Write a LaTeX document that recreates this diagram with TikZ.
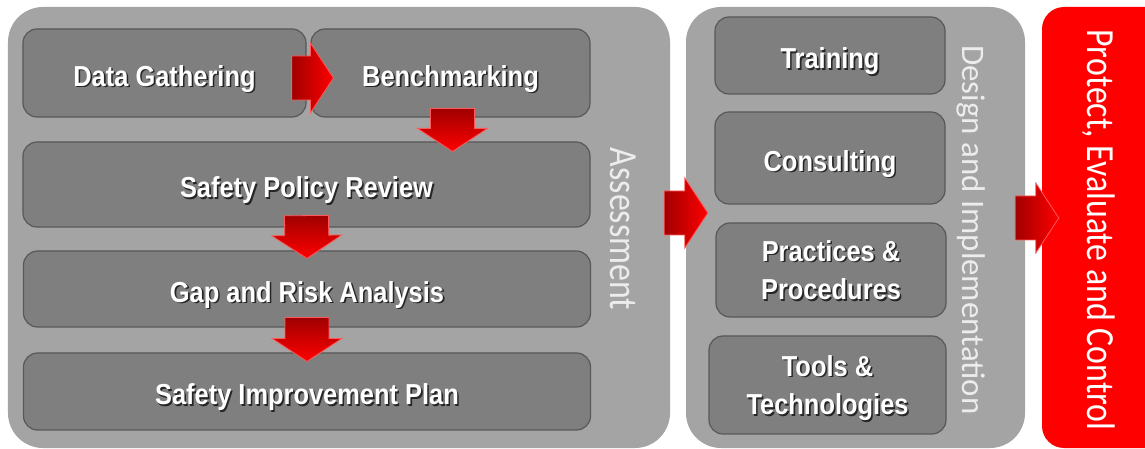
\documentclass[tikz,border=0pt]{standalone}
\usepackage{fontspec}
\usepackage{xcolor}
\usepackage{tikz}
\usetikzlibrary{calc}
\setmainfont{Liberation Sans}
\newfontfamily\boxfont[FakeStretch=0.88]{Liberation Sans}
\newfontfamily\sidefont[FakeStretch=0.85]{Carlito}
\newfontfamily\sidefontn{Carlito}
\definecolor{panelgray}{HTML}{A4A4A4}
\definecolor{boxgray}{HTML}{7F7F7F}
\definecolor{boxedge}{HTML}{585858}
\definecolor{arrdark}{HTML}{A00000}
\definecolor{arrred}{HTML}{FF0000}
\definecolor{arrrim}{HTML}{FF5A5A}
\definecolor{sidetext}{HTML}{ECECEC}
\tikzset{
  panel/.style={fill=panelgray, draw=none, rounded corners=35bp, inner sep=0pt},
  redpanel/.style={fill=arrred, draw=none, rounded corners=22bp, inner sep=0pt},
  box/.style={draw=boxedge, fill=boxgray, line width=1.2pt, rounded corners=14bp,
    text=white, align=center, inner sep=0pt, text height=26.8bp, text depth=0pt,
    font=\boxfont\bfseries\fontsize{29}{39}\selectfont},
  twoline/.style={text height=, text depth=0pt},
  sidelab/.style={text=sidetext, inner sep=0pt, anchor=base, rotate=-90,
    font=\sidefont\fontsize{40}{44}\selectfont},
  rarrow/.style={left color=arrdark, right color=arrred, draw=arrrim, line width=0.8pt, line join=miter},
  darrow/.style={top color=arrdark, bottom color=arrred, draw=arrrim, line width=0.8pt, line join=miter},
}
% white text with a dark drop shadow
\newcommand{\shtext}[1]{\makebox[0pt][l]{\hspace{1.6bp}\raisebox{-1.6bp}{\textcolor{black!85}{#1}}}#1}
% block arrow from tail #2 to tip #3
\newcommand{\blockarrow}[3]{%
  \coordinate (ba-c) at ($(#3)!23bp!(#2)$);
  \draw[#1] ($(#2)!22bp!90:(#3)$) -- ($(ba-c)!22bp!-90:(#2)$) -- ($(ba-c)!35bp!-90:(#2)$)
    -- (#3) -- ($(ba-c)!35bp!90:(#2)$) -- ($(ba-c)!22bp!90:(#2)$) -- ($(#2)!22bp!-90:(#3)$) -- cycle;}
\begin{document}
\begin{tikzpicture}[x=1bp,y=-1bp]
  \useasboundingbox (0,0) rectangle (1145,449);
  \fill[white] (0,0) rectangle (1145,449);

  % panels
  \node[panel, minimum width=662bp, minimum height=441bp] (assess) at (339,227.5) {};
  \node[panel, minimum width=339bp, minimum height=441bp] (design) at (855.5,227.5) {};
  \node[redpanel, minimum width=160bp, minimum height=441bp] (protect) at (1122,227.5) {};

  % assessment steps
  \node[box, minimum width=283bp, minimum height=88bp] (dg) at (164.5,73) {\shtext{Data Gathering}};
  \node[box, minimum width=279bp, minimum height=88bp] (bm) at (450.5,73) {\shtext{Benchmarking}};
  \node[box, minimum width=567bp, minimum height=85bp] (spr) at (306.5,184.5) {\shtext{Safety Policy Review}};
  \node[box, minimum width=567bp, minimum height=76bp] (gra) at (307,289) {\shtext{Gap and Risk Analysis}};
  \node[box, minimum width=567bp, minimum height=77bp] (sip) at (307,391.5) {\shtext{Safety Improvement Plan}};

  % design and implementation items
  \node[box, minimum width=230bp, minimum height=77bp] (trn) at (830,55.5) {\shtext{Training}};
  \node[box, minimum width=230bp, minimum height=92bp] (cons) at (830,158) {\shtext{Consulting}};
  \node[box, twoline, minimum width=230bp, minimum height=94bp] (prac) at (831,270) {\shtext{Practices \&}\\\shtext{Procedures}};
  \node[box, twoline, minimum width=237bp, minimum height=98bp] (tools) at (827.5,385) {\shtext{Tools \&}\\\shtext{Technologies}};

  % side labels
  \node[sidelab] (lassess) at (610,229) {Assessment};
  \node[sidelab, font=\sidefontn\fontsize{33}{36}\selectfont] (ldesign) at (962,230) {Design and Implementation};
  \node[sidelab, text=white] (lprotect) at (1087,230) {Protect, Evaluate and Control};

  % arrows
  \coordinate (a1s) at ($(dg.east)+(-15,5)$);
  \coordinate (a1e) at ($(bm.west)+(23,5)$);
  \blockarrow{rarrow}{a1s}{a1e}
  \coordinate (a2s) at ($(bm.south)+(2,-9)$);
  \coordinate (a2e) at ($(bm.south |- spr.north)+(2,10)$);
  \blockarrow{darrow}{a2s}{a2e}
  \coordinate (a3s) at ($(spr.south)+(0,-12)$);
  \coordinate (a3e) at ($(gra.north)+(0,8)$);
  \blockarrow{darrow}{a3s}{a3e}
  \coordinate (a4s) at ($(gra.south)+(0,-10)$);
  \coordinate (a4e) at ($(sip.north)+(0,9)$);
  \blockarrow{darrow}{a4s}{a4e}
  \coordinate (a5s) at ($(assess.east)+(-6,-14.5)$);
  \coordinate (a5e) at ($(design.west)+(22,-14.5)$);
  \blockarrow{rarrow}{a5s}{a5e}
  \coordinate (a6s) at ($(design.east)+(-10,-9.5)$);
  \coordinate (a6e) at ($(protect.west)+(17,-9.5)$);
  \blockarrow{rarrow}{a6s}{a6e}
\end{tikzpicture}
\end{document}
